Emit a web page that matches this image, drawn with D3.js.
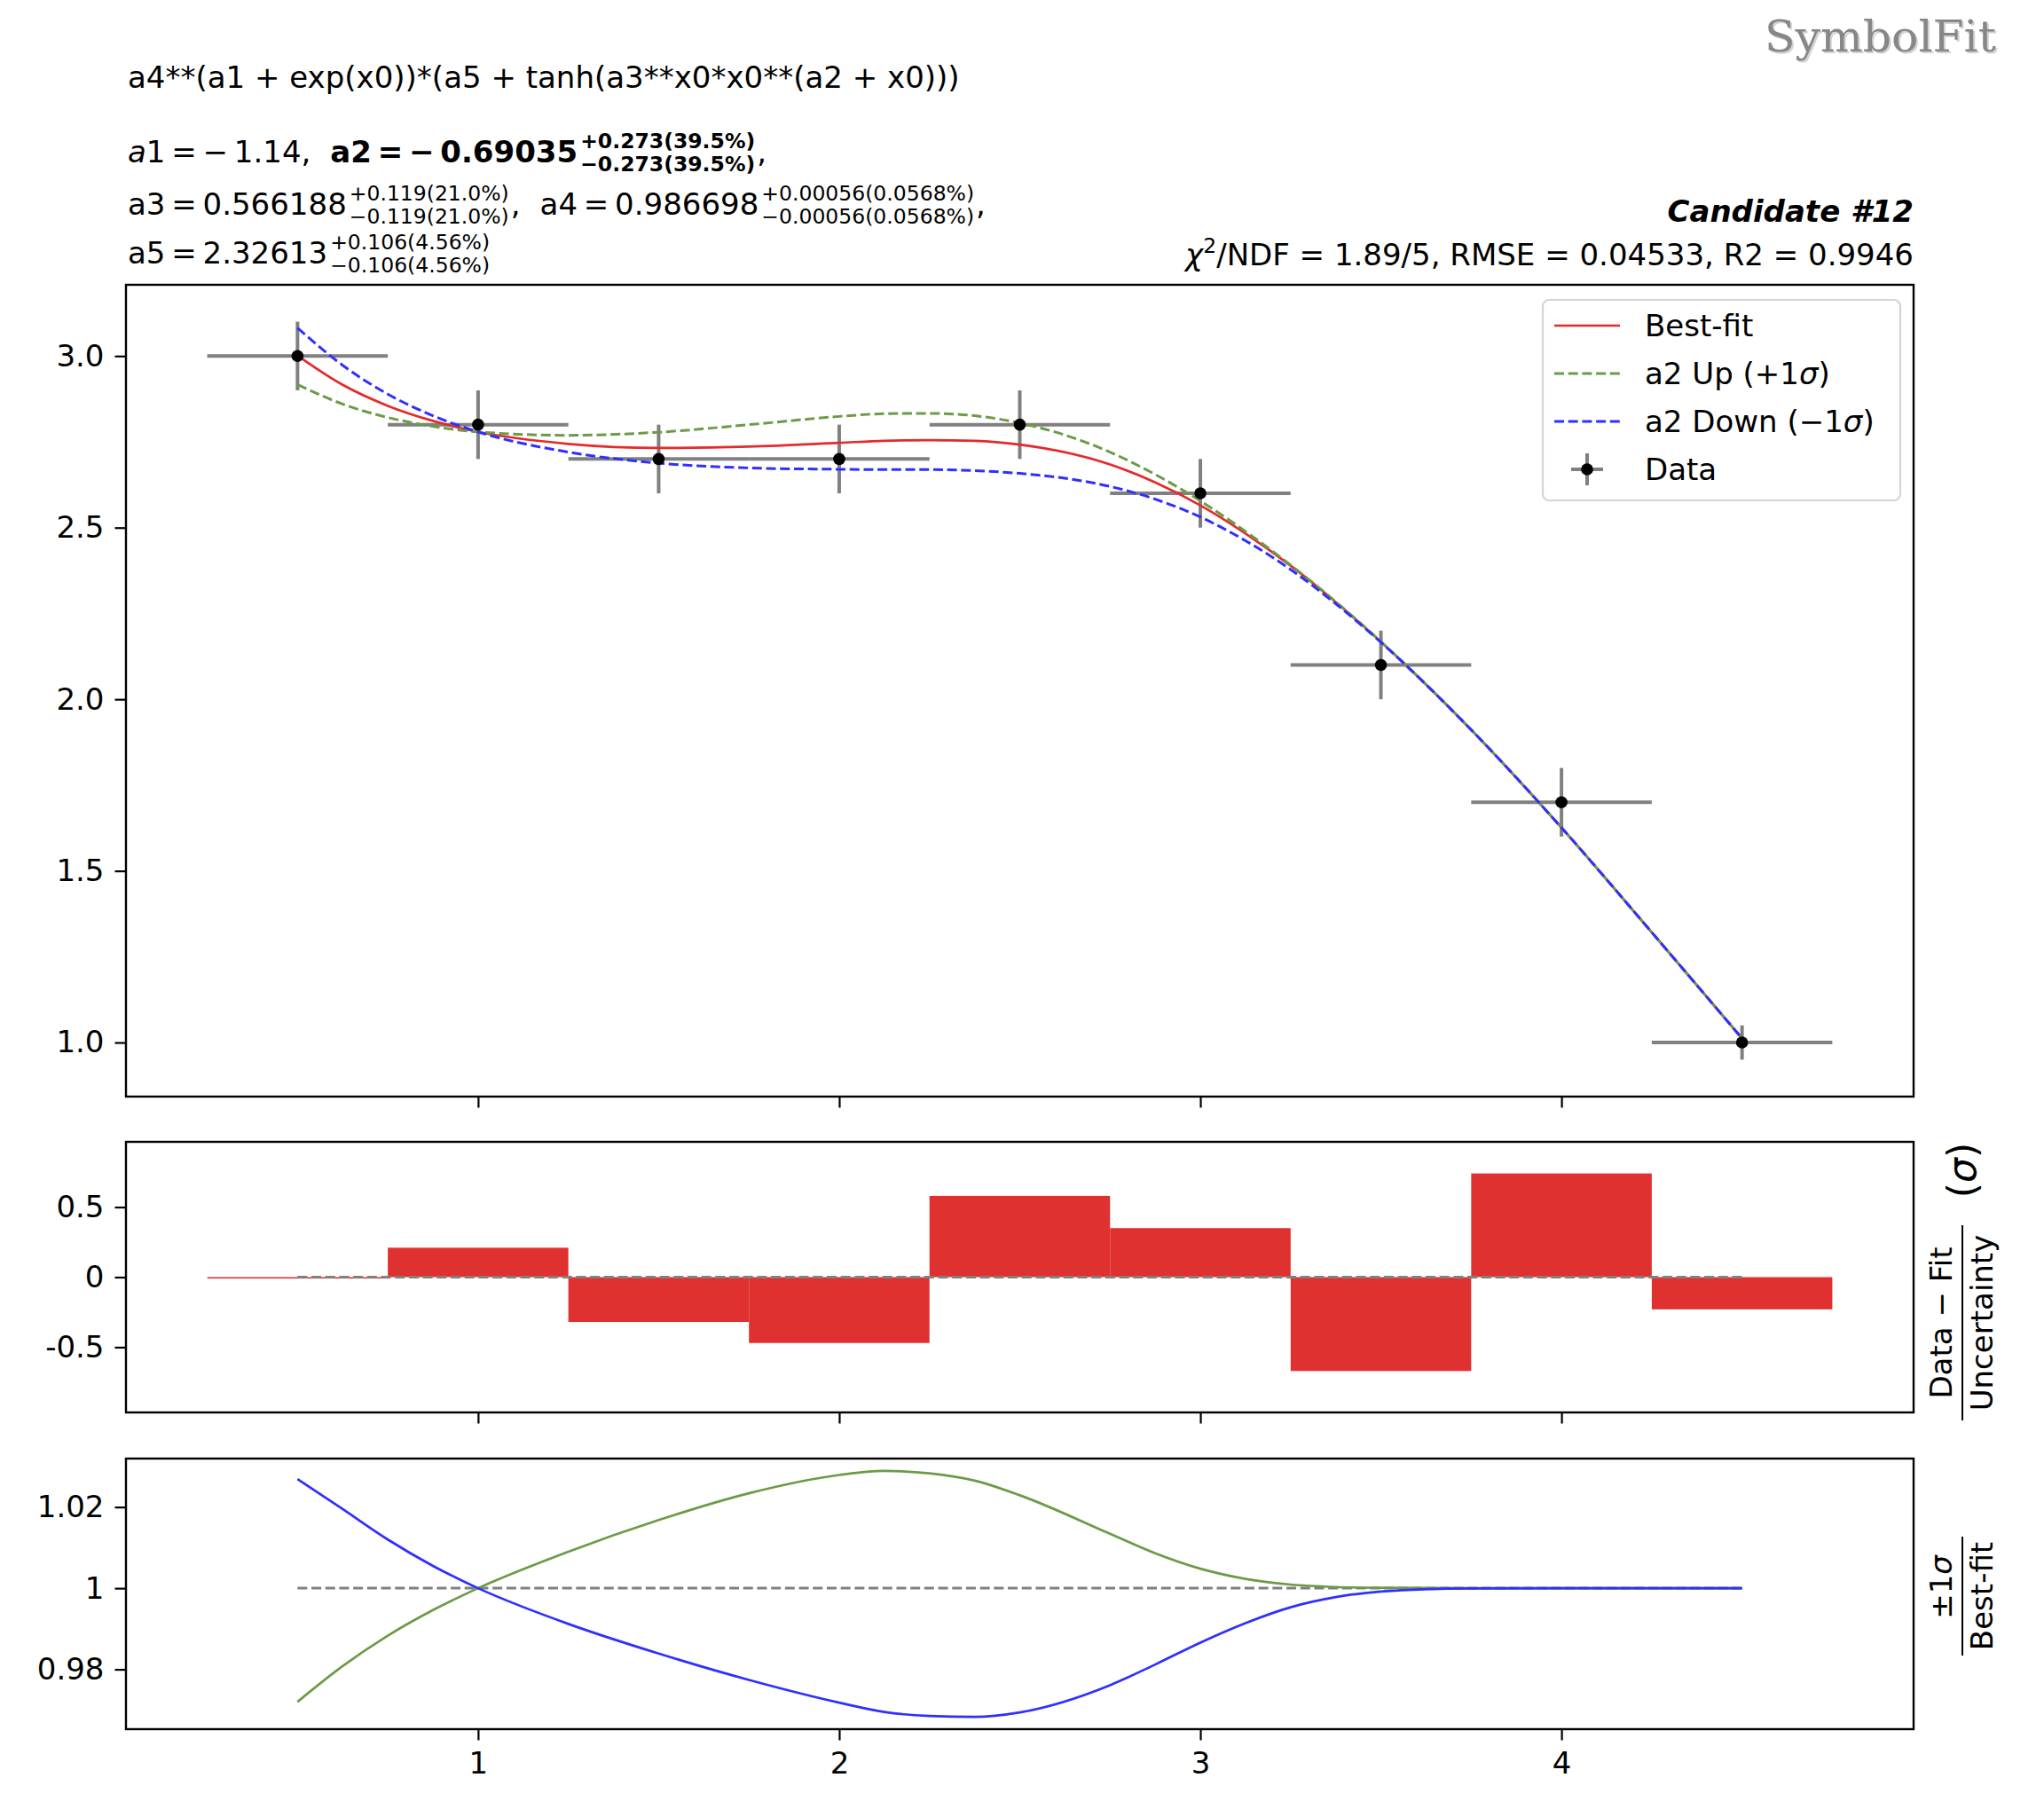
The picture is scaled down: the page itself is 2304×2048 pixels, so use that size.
<!DOCTYPE html>
<html>
<head>
<meta charset="utf-8">
<script src="https://cdn.jsdelivr.net/npm/d3@7"></script>
<style>
	body {margin:0; background:#fff;}
	text {font-family:"DejaVu Sans", sans-serif;}
</style>
</head>
<body>
<svg id="fig" width="2304" height="2048"></svg>
<script>
//data points (with uncertainties)
var dataX = [0.5, 1.0, 1.5, 2.0, 2.5, 3.0, 3.5, 4.0, 4.5];
var dataY = [3.0, 2.8, 2.7, 2.7, 2.8, 2.6, 2.1, 1.7, 1.0];
var dataErrY = [0.1, 0.1, 0.1, 0.1, 0.1, 0.1, 0.1, 0.1, 0.05];
var dataErrX = [0.25, 0.25, 0.25, 0.25, 0.25, 0.25, 0.25, 0.25, 0.25];

//residuals (data - fit) / uncertainty
var residuals = [-0.01, 0.21, -0.32, -0.47, 0.58, 0.35, -0.67, 0.74, -0.23];

//fitted curves
var curveX   = [0.5, 0.625, 0.75, 0.875, 1.0, 1.25, 1.5, 1.75, 2.0, 2.125, 2.25, 2.375, 2.5, 2.75, 2.875, 3.0, 3.125, 3.25, 3.375, 3.5, 3.75, 4.0, 4.25, 4.5];
var bestFit  = [3.001, 2.916, 2.855, 2.811, 2.779, 2.744, 2.732, 2.736, 2.747, 2.753, 2.755, 2.753, 2.742, 2.684, 2.632, 2.565, 2.483, 2.389, 2.283, 2.167, 1.911, 1.626, 1.321, 1.012];
var upFit    = [2.917, 2.860, 2.821, 2.795, 2.779, 2.769, 2.778, 2.800, 2.824, 2.832, 2.833, 2.826, 2.805, 2.720, 2.655, 2.578, 2.489, 2.391, 2.284, 2.168, 1.911, 1.626, 1.321, 1.012];
var downFit  = [3.082, 2.973, 2.889, 2.826, 2.779, 2.720, 2.688, 2.674, 2.670, 2.669, 2.669, 2.666, 2.658, 2.620, 2.583, 2.531, 2.462, 2.378, 2.278, 2.166, 1.911, 1.626, 1.321, 1.012];

//ratio of +-1 sigma curves to best fit
var ratioUp   = [0.9720, 0.9808, 0.9883, 0.9946, 1.0, 1.0090, 1.0168, 1.0234, 1.0279, 1.0289, 1.0283, 1.0265, 1.0229, 1.0134, 1.0086, 1.0048, 1.0023, 1.0009, 1.0003, 1.0001, 1.0, 1.0, 1.0, 1.0];
var ratioDown = [1.0269, 1.0195, 1.0120, 1.0055, 1.0, 0.9912, 0.9839, 0.9774, 0.9718, 0.9695, 0.9685, 0.9683, 0.9694, 0.9761, 0.9812, 0.9866, 0.9914, 0.9953, 0.9978, 0.9992, 0.99995, 1.0, 1.0, 1.0];

//ticks
var xTicks = [1, 2, 3, 4];
var mainTicks = [1.0, 1.5, 2.0, 2.5, 3.0];
var resTicks = [-0.5, 0, 0.5];
var resTickLabels = ["-0.5", "0", "0.5"];
var ratioTicks = [0.98, 1, 1.02];
var ratioTickLabels = ["0.98", "1", "1.02"];

//layout
var L = 142, R = 2157;
var FS = 34, SS = 23.5;
var RED = "#e32b2b", BAR = "#e03131", GREEN = "#6b9b47", BLUE = "#2f2fff", GRAY = "#808080";
var DASH = "11,4.7";
var TS = "\u2009"; //thin space, mathtext-like spacing

var svg = d3.select("#fig");

var x = d3.scaleLinear().domain([0.025, 4.975]).range([L, R]);
var yMain = d3.scaleLinear().domain([0.8425, 3.2075]).range([1236, 321]);
var yRes = d3.scaleLinear().domain([-0.9656, 0.9656]).range([1592, 1287]);
var yRatio = d3.scaleLinear().domain([0.96526, 1.03195]).range([1949, 1644]);

function zip(xs, ys) {
	return xs.map(function(v, i) { return [v, ys[i]]; });
}

//rich text helper: pieces = [[text, "i"|"b"|"bi"|null], ...]
function rich(parent, px, py, pieces, size, anchor) {
	var t = parent.append("text").attr("x", px).attr("y", py)
		.attr("font-size", size || FS).attr("text-anchor", anchor || "start");
	pieces.forEach(function(p) {
		var s = t.append("tspan").text(p[0]);
		if (p[1] && p[1].indexOf("i") >= 0) s.attr("font-style", "italic");
		if (p[1] && p[1].indexOf("b") >= 0) s.attr("font-weight", "bold");
	});
	return t;
}

//one line of parameters with stacked super/subscripts
function paramLine(py, items) {
	var cx = 144;
	items.forEach(function(it) {
		cx += it.gap || 0;
		var t = rich(svg, cx, py, it.main);
		cx += t.node().getComputedTextLength();
		if (it.sup) {
			cx += 3;
			var ts = svg.append("text").attr("x", cx).attr("y", py - 16).attr("font-size", SS).text(it.sup);
			var tb = svg.append("text").attr("x", cx).attr("y", py + 10).attr("font-size", SS).text(it.sub);
			if (it.bold) { ts.attr("font-weight", "bold"); tb.attr("font-weight", "bold"); }
			cx += Math.max(ts.node().getComputedTextLength(), tb.node().getComputedTextLength()) + 2;
		}
	});
}

//header texts
rich(svg, 144, 99, [["a4**(a1 + exp(x0))*(a5 + tanh(a3**x0*x0**(a2 + x0)))"]]);
paramLine(183, [
	{main: [["a", "i"], ["1" + TS + "=" + TS + "−" + TS + "1.14,"]]},
	{gap: 22, main: [["a2" + TS + "=" + TS + "−" + TS + "0.69035", "b"]], sup: "+0.273(39.5%)", sub: "−0.273(39.5%)", bold: true},
	{main: [[","]]}
]);
paramLine(242, [
	{main: [["a3" + TS + "=" + TS + "0.566188"]], sup: "+0.119(21.0%)", sub: "−0.119(21.0%)"},
	{main: [[","]]},
	{gap: 22, main: [["a4" + TS + "=" + TS + "0.986698"]], sup: "+0.00056(0.0568%)", sub: "−0.00056(0.0568%)"},
	{main: [[","]]}
]);
paramLine(297, [
	{main: [["a5" + TS + "=" + TS + "2.32613"]], sup: "+0.106(4.56%)", sub: "−0.106(4.56%)"}
]);
rich(svg, R, 250, [["Candidate #12", "bi"]], FS, "end");
var chi = svg.append("text").attr("x", R).attr("y", 299).attr("font-size", FS).attr("text-anchor", "end");
chi.append("tspan").attr("font-style", "italic").text("χ");
chi.append("tspan").attr("font-size", SS).attr("dy", -14).text("2");
chi.append("tspan").attr("dy", 14).text("/NDF = 1.89/5, RMSE = 0.04533, R2 = 0.9946");

//logo (slab serif look with a soft shadow)
[["#d2d2d2", 1991, 60], ["#878787", 1989, 58]].forEach(function(s) {
	svg.append("text").attr("x", s[1]).attr("y", s[2])
		.style("font-family", '"DejaVu Serif", serif')
		.attr("font-size", 49).attr("textLength", 261).attr("lengthAdjust", "spacingAndGlyphs")
		.attr("fill", s[0]).text("SymbolFit");
});

//axes helpers
function leftAxis(scale, ticks, labels) {
	var g = svg.append("g").attr("transform", "translate(" + L + ",0)")
		.call(d3.axisLeft(scale).tickValues(ticks).tickSize(12.5).tickPadding(12)
			.tickFormat(function(d, i) { return labels[i]; }));
	g.attr("font-size", FS);
	g.select(".domain").remove();
	g.selectAll("line").attr("stroke", "#000").attr("stroke-width", 2.2);
	g.selectAll("text").attr("fill", "#000");
}
function bottomAxis(yPos, withLabels) {
	var g = svg.append("g").attr("transform", "translate(0," + yPos + ")")
		.call(d3.axisBottom(x).tickValues(xTicks).tickSize(12.5).tickPadding(13)
			.tickFormat(withLabels ? d3.format("d") : ""));
	g.attr("font-size", FS);
	g.select(".domain").remove();
	g.selectAll("line").attr("stroke", "#000").attr("stroke-width", 2.2);
	g.selectAll("text").attr("fill", "#000");
}
function frame(top, bottom) {
	svg.append("rect").attr("x", L).attr("y", top).attr("width", R - L).attr("height", bottom - top)
		.attr("fill", "none").attr("stroke", "#000").attr("stroke-width", 2.4);
}

//---------- main panel ----------
var main = svg.append("g");
dataX.forEach(function(dx, i) {
	main.append("line").attr("x1", x(dx - dataErrX[i])).attr("x2", x(dx + dataErrX[i]))
		.attr("y1", yMain(dataY[i])).attr("y2", yMain(dataY[i]))
		.attr("stroke", GRAY).attr("stroke-width", 4);
	main.append("line").attr("x1", x(dx)).attr("x2", x(dx))
		.attr("y1", yMain(dataY[i] - dataErrY[i])).attr("y2", yMain(dataY[i] + dataErrY[i]))
		.attr("stroke", GRAY).attr("stroke-width", 4);
});

var mainLine = d3.line().x(function(d) { return x(d[0]); }).y(function(d) { return yMain(d[1]); })
	.curve(d3.curveMonotoneX);
main.append("path").attr("d", mainLine(zip(curveX, bestFit))).attr("fill", "none")
	.attr("stroke", RED).attr("stroke-width", 2.7);
main.append("path").attr("d", mainLine(zip(curveX, upFit))).attr("fill", "none")
	.attr("stroke", GREEN).attr("stroke-width", 3).attr("stroke-dasharray", DASH);
main.append("path").attr("d", mainLine(zip(curveX, downFit))).attr("fill", "none")
	.attr("stroke", BLUE).attr("stroke-width", 3).attr("stroke-dasharray", DASH);

main.selectAll("circle.pt").data(dataX).enter().append("circle")
	.attr("cx", function(d) { return x(d); })
	.attr("cy", function(d, i) { return yMain(dataY[i]); })
	.attr("r", 6.8).attr("fill", "#000");

leftAxis(yMain, mainTicks, mainTicks.map(d3.format(".1f")));
bottomAxis(1236, false);
frame(321, 1236);

//legend
var leg = svg.append("g");
leg.append("rect").attr("x", 1739).attr("y", 338).attr("width", 403).attr("height", 226).attr("rx", 7)
	.attr("fill", "#fff").attr("fill-opacity", 0.8).attr("stroke", "#d4d4d4").attr("stroke-width", 2.2);
var legEntries = [
	{label: [["Best-fit"]], color: RED, dash: null},
	{label: [["a2 Up (+1"], ["σ", "i"], [")"]], color: GREEN, dash: DASH},
	{label: [["a2 Down (−1"], ["σ", "i"], [")"]], color: BLUE, dash: DASH},
	{label: [["Data"]], color: null}
];
legEntries.forEach(function(e, i) {
	var cy = 367 + i * 54;
	if (e.color) {
		var l = leg.append("line").attr("x1", 1752).attr("x2", 1826).attr("y1", cy).attr("y2", cy)
			.attr("stroke", e.color).attr("stroke-width", e.dash ? 3 : 2.7);
		if (e.dash) l.attr("stroke-dasharray", DASH);
	} else {
		leg.append("line").attr("x1", 1771).attr("x2", 1807).attr("y1", cy).attr("y2", cy)
			.attr("stroke", GRAY).attr("stroke-width", 4);
		leg.append("line").attr("x1", 1789).attr("x2", 1789).attr("y1", cy - 18).attr("y2", cy + 18)
			.attr("stroke", GRAY).attr("stroke-width", 4);
		leg.append("circle").attr("cx", 1789).attr("cy", cy).attr("r", 6.8).attr("fill", "#000");
	}
	rich(leg, 1854, cy + 12, e.label);
});

//---------- residual panel ----------
var res = svg.append("g");
res.selectAll("rect.bar").data(dataX).enter().append("rect")
	.attr("x", function(d, i) { return x(d - dataErrX[i]); })
	.attr("width", function(d, i) { return x(d + dataErrX[i]) - x(d - dataErrX[i]); })
	.attr("y", function(d, i) { return Math.min(yRes(residuals[i]), yRes(0)); })
	.attr("height", function(d, i) { return Math.max(1.6, Math.abs(yRes(residuals[i]) - yRes(0))); })
	.attr("fill", BAR);
res.append("line").attr("x1", x(dataX[0])).attr("x2", x(dataX[dataX.length - 1]))
	.attr("y1", yRes(0)).attr("y2", yRes(0))
	.attr("stroke", GRAY).attr("stroke-width", 3).attr("stroke-dasharray", DASH);
leftAxis(yRes, resTicks, resTickLabels);
bottomAxis(1592, false);
frame(1287, 1592);

//---------- ratio panel ----------
var rat = svg.append("g");
var ratioLine = d3.line().x(function(d) { return x(d[0]); }).y(function(d) { return yRatio(d[1]); })
	.curve(d3.curveMonotoneX);
rat.append("line").attr("x1", x(dataX[0])).attr("x2", x(dataX[dataX.length - 1]))
	.attr("y1", yRatio(1)).attr("y2", yRatio(1))
	.attr("stroke", GRAY).attr("stroke-width", 3).attr("stroke-dasharray", DASH);
rat.append("path").attr("d", ratioLine(zip(curveX, ratioUp))).attr("fill", "none")
	.attr("stroke", GREEN).attr("stroke-width", 2.7);
rat.append("path").attr("d", ratioLine(zip(curveX, ratioDown))).attr("fill", "none")
	.attr("stroke", BLUE).attr("stroke-width", 2.7);
leftAxis(yRatio, ratioTicks, ratioTickLabels);
bottomAxis(1949, true);
frame(1644, 1949);

//---------- right side labels ----------
var lab1 = svg.append("g").attr("transform", "translate(2212,1491) rotate(-90)");
lab1.append("line").attr("x1", -110).attr("x2", 110).attr("y1", 0).attr("y2", 0).attr("stroke", "#000").attr("stroke-width", 2);
rich(lab1, 0, -12, [["Data − Fit"]], FS, "middle");
rich(lab1, 0, 34, [["Uncertainty"]], FS, "middle");
rich(lab1, 172, 15, [["("], ["σ", "i"], [")"]], 44, "middle");

var lab2 = svg.append("g").attr("transform", "translate(2212,1799) rotate(-90)");
lab2.append("line").attr("x1", -67).attr("x2", 67).attr("y1", 0).attr("y2", 0).attr("stroke", "#000").attr("stroke-width", 2);
rich(lab2, 10, -12, [["±1"], ["σ", "i"]], FS, "middle");
rich(lab2, 0, 34, [["Best-fit"]], FS, "middle");
</script>
</body>
</html>
